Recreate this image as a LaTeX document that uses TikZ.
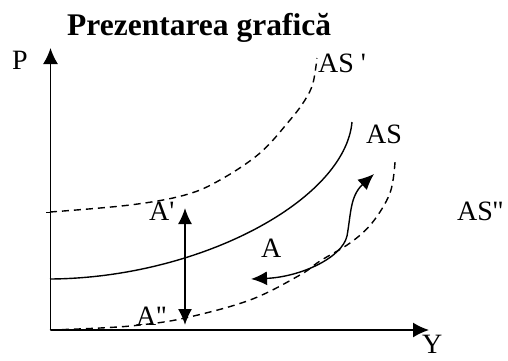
\documentclass[tikz,border=0pt]{standalone}
\usepackage{fontspec}
\newfontfamily\tnr{Liberation Serif}
\usetikzlibrary{arrows.meta}
\begin{document}
\begin{tikzpicture}[x=1pt,y=-1pt,
  lbl/.style={inner sep=0pt,anchor=base west,font=\tnr\fontsize{28}{31}\selectfont},
  ttl/.style={inner sep=0pt,anchor=base west,font=\tnr\fontsize{31.5}{34}\selectfont\bfseries},
  axis/.style={line width=1.5pt,-{Latex[length=16pt,width=15pt]}},
  curve/.style={line width=1.4pt},
  dcurve/.style={line width=1.4pt,dash pattern=on 7pt off 5pt},
  darrow/.style={line width=1.5pt,{Latex[length=16pt,width=14pt]}-{Latex[length=16pt,width=14pt]}}]
\useasboundingbox (0,0) rectangle (508,360);
% title and labels
\node[ttl] (title) at (67,35) {Prezentarea grafică};
\node[lbl] (P) at (12,69) {P};
\node[lbl] (Y) at (422,353) {Y};
\node[lbl] (ASp) at (318,72) {AS '};
\node[lbl] (AS) at (366,143) {AS};
\node[lbl] (ASpp) at (457,220) {AS''};
\node[lbl] (Ap) at (149,220) {A'};
\node[lbl] (A) at (261,257) {A};
\node[lbl] (App) at (136,325) {A''};
% axes
\coordinate (O) at (50.5,330);
\coordinate (Ptop) at (50.5,48);
\coordinate (Yend) at (429,330);
\draw[axis] (O) -- (Ptop);
\draw[axis] (O) -- (Yend);
\coordinate (tk) at (46,212);
\coordinate (tk2) at (50.5,212);
\draw[line width=1pt] (tk) -- (tk2);
% curves
\draw[dcurve] plot[smooth,tension=0.6] coordinates {(50,212) (130,205) (185,195) (220,180) (260,153) (290,120) (305,100) (313,83) (317,58)};
\coordinate (s0) at (50,279);
\coordinate (s1) at (352,122);
\draw[curve] (s0) .. controls (200,278) and (345,200) .. (s1);
\draw[dcurve] plot[smooth,tension=0.6] coordinates {(50,330) (100,328) (140,325) (185,318) (250,300) (300,275) (320,261) (350,243) (372,223) (390,193) (395,162)};
% vertical double arrow
\coordinate (vtop) at (185,208);
\coordinate (vbot) at (185,325);
\draw[darrow] (vtop) -- (vbot);
% curved arrow
\coordinate (cL) at (251,279);
\coordinate (cM) at (347,236);
\coordinate (cR) at (374,174);
\draw[darrow,line width=1.4pt] (cL) .. controls (300,277) and (342,258) .. (cM) .. controls (351,214) and (350,196) .. (cR);
\end{tikzpicture}
\end{document}
